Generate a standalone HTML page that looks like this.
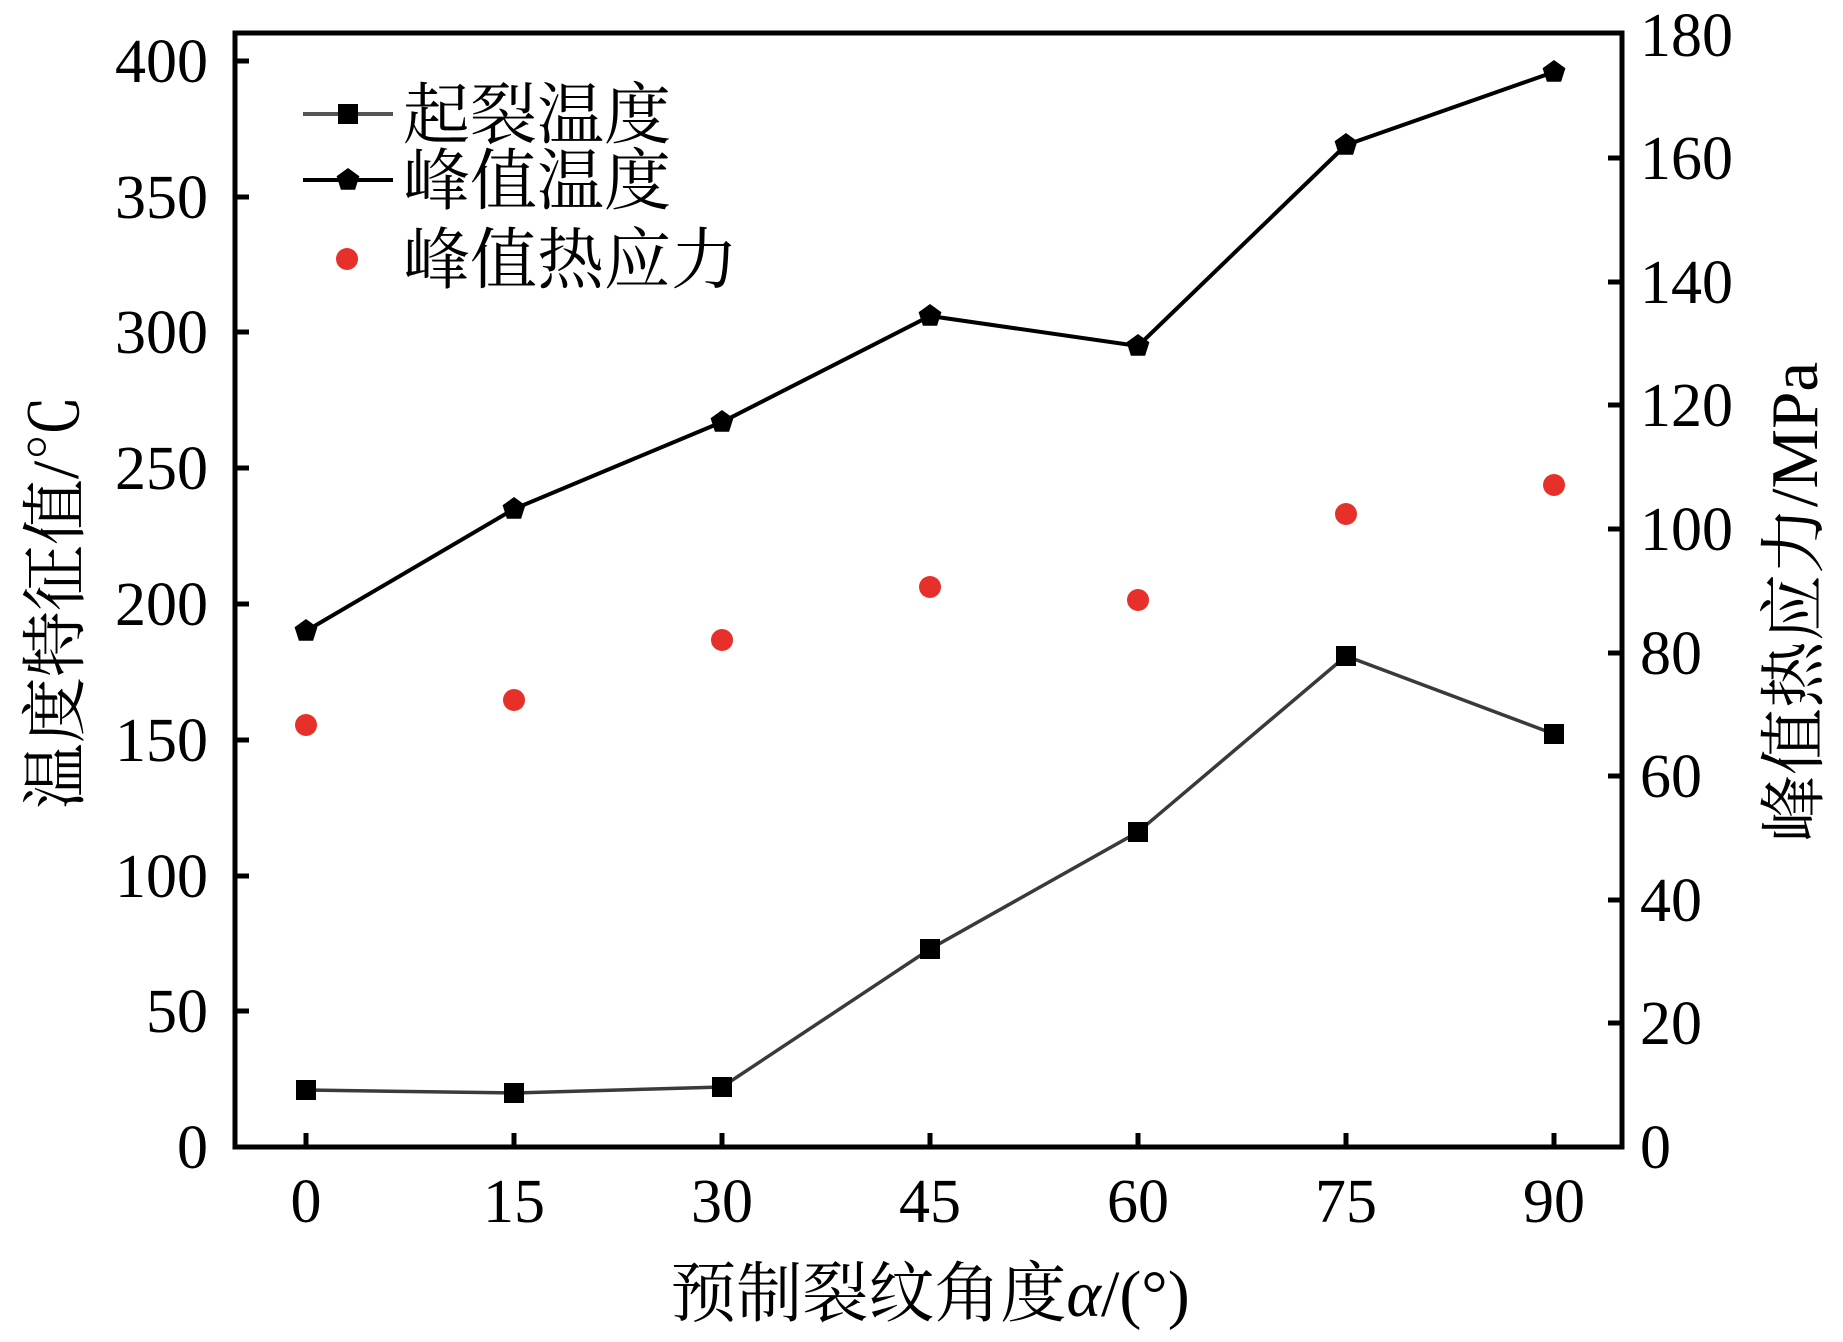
<!DOCTYPE html>
<html><head><meta charset="utf-8"><style>
html,body{margin:0;padding:0;background:#fff;}
svg text{font-family:"Liberation Serif","Noto Serif CJK SC",serif;fill:#000;}
</style></head><body>
<svg width="1843" height="1337" viewBox="0 0 1843 1337" xmlns="http://www.w3.org/2000/svg">
<defs>
<polygon id="pent" points="0,-12 11.4,-3.7 7.1,9.7 -7.1,9.7 -11.4,-3.7" fill="#000"/>
</defs>
<rect x="235" y="33" width="1387" height="1114" fill="none" stroke="#000" stroke-width="5"/>
<g stroke="#000" stroke-width="5">
<line x1="235" y1="1011" x2="249" y2="1011"/>
<line x1="235" y1="876" x2="249" y2="876"/>
<line x1="235" y1="740" x2="249" y2="740"/>
<line x1="235" y1="604" x2="249" y2="604"/>
<line x1="235" y1="468" x2="249" y2="468"/>
<line x1="235" y1="332" x2="249" y2="332"/>
<line x1="235" y1="197" x2="249" y2="197"/>
<line x1="235" y1="61" x2="249" y2="61"/>
<line x1="1608" y1="1023" x2="1622" y2="1023"/>
<line x1="1608" y1="900" x2="1622" y2="900"/>
<line x1="1608" y1="776" x2="1622" y2="776"/>
<line x1="1608" y1="653" x2="1622" y2="653"/>
<line x1="1608" y1="529" x2="1622" y2="529"/>
<line x1="1608" y1="405" x2="1622" y2="405"/>
<line x1="1608" y1="282" x2="1622" y2="282"/>
<line x1="1608" y1="158" x2="1622" y2="158"/>
<line x1="306" y1="1147" x2="306" y2="1133"/>
<line x1="514" y1="1147" x2="514" y2="1133"/>
<line x1="722" y1="1147" x2="722" y2="1133"/>
<line x1="930" y1="1147" x2="930" y2="1133"/>
<line x1="1138" y1="1147" x2="1138" y2="1133"/>
<line x1="1346" y1="1147" x2="1346" y2="1133"/>
<line x1="1554" y1="1147" x2="1554" y2="1133"/>
</g>
<g font-size="62" text-anchor="end">
<text x="208" y="1168">0</text>
<text x="208" y="1032">50</text>
<text x="208" y="897">100</text>
<text x="208" y="761">150</text>
<text x="208" y="625">200</text>
<text x="208" y="489">250</text>
<text x="208" y="353">300</text>
<text x="208" y="218">350</text>
<text x="208" y="82">400</text>
</g>
<g font-size="62" text-anchor="start">
<text x="1640" y="1168">0</text>
<text x="1640" y="1044">20</text>
<text x="1640" y="921">40</text>
<text x="1640" y="797">60</text>
<text x="1640" y="674">80</text>
<text x="1640" y="550">100</text>
<text x="1640" y="426">120</text>
<text x="1640" y="303">140</text>
<text x="1640" y="179">160</text>
<text x="1640" y="56">180</text>
</g>
<g font-size="62" text-anchor="middle">
<text x="306" y="1222">0</text>
<text x="514" y="1222">15</text>
<text x="722" y="1222">30</text>
<text x="930" y="1222">45</text>
<text x="1138" y="1222">60</text>
<text x="1346" y="1222">75</text>
<text x="1554" y="1222">90</text>
</g>
<text x="930" y="1316" font-size="66" text-anchor="middle">预制裂纹角度<tspan font-style="italic">α</tspan>/(°)</text>
<text transform="translate(78,602) rotate(-90)" font-size="66" text-anchor="middle">温度特征值/℃</text>
<text transform="translate(1817,602) rotate(-90)" font-size="67" text-anchor="middle">峰值热应力/MPa</text>
<polyline fill="none" stroke="#3a3a3a" stroke-width="3.5" points="306,1090 514,1093 722,1087 930,949 1138,832 1346,656 1554,734"/>
<g fill="#000">
<rect x="296" y="1080" width="20" height="20"/>
<rect x="504" y="1083" width="20" height="20"/>
<rect x="712" y="1077" width="20" height="20"/>
<rect x="920" y="939" width="20" height="20"/>
<rect x="1128" y="822" width="20" height="20"/>
<rect x="1336" y="646" width="20" height="20"/>
<rect x="1544" y="724" width="20" height="20"/>
</g>
<polyline fill="none" stroke="#000" stroke-width="4" points="306,631 514,509 722,422 930,316 1138,346 1346,145 1554,72"/>
<use href="#pent" x="306" y="631"/>
<use href="#pent" x="514" y="509"/>
<use href="#pent" x="722" y="422"/>
<use href="#pent" x="930" y="316"/>
<use href="#pent" x="1138" y="346"/>
<use href="#pent" x="1346" y="145"/>
<use href="#pent" x="1554" y="72"/>
<g fill="#e8302a">
<circle cx="306" cy="725" r="11"/>
<circle cx="514" cy="700" r="11"/>
<circle cx="722" cy="640" r="11"/>
<circle cx="930" cy="587" r="11"/>
<circle cx="1138" cy="600" r="11"/>
<circle cx="1346" cy="514" r="11"/>
<circle cx="1554" cy="485" r="11"/>
</g>
<line x1="303" y1="114" x2="393" y2="114" stroke="#555" stroke-width="4"/>
<rect x="338" y="104" width="20" height="20" fill="#000"/>
<line x1="303" y1="180" x2="393" y2="180" stroke="#000" stroke-width="4"/>
<use href="#pent" x="348" y="180"/>
<circle cx="347" cy="259" r="11" fill="#e8302a"/>
<g font-size="67">
<text x="403" y="138">起裂温度</text>
<text x="403" y="204">峰值温度</text>
<text x="403" y="283">峰值热应力</text>
</g>
</svg>
</body></html>
